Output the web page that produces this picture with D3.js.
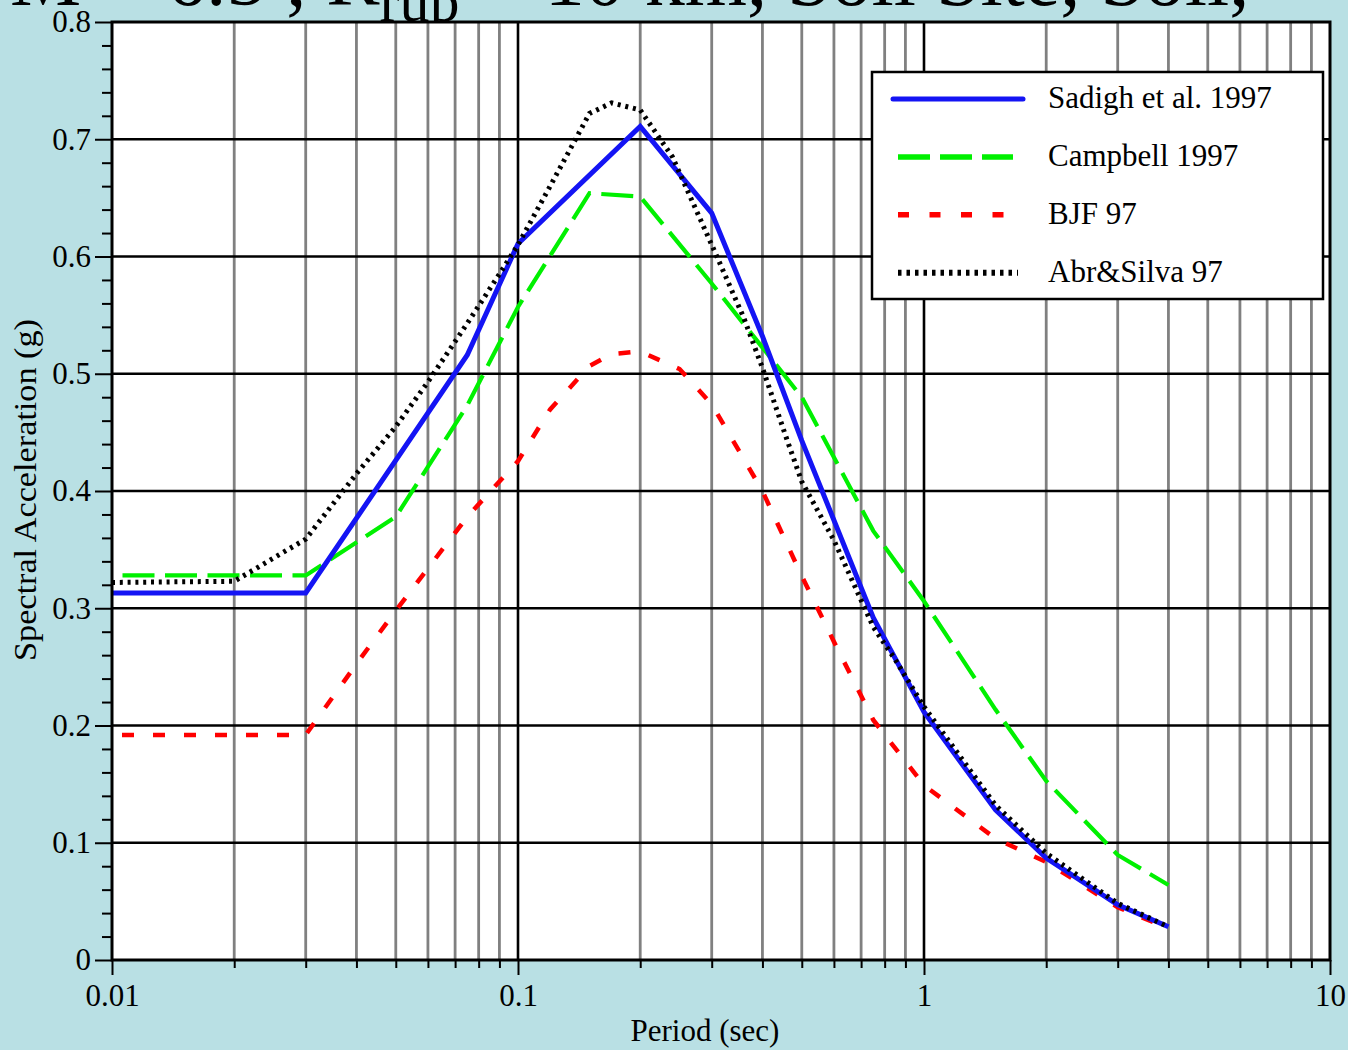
<!DOCTYPE html>
<html><head><meta charset="utf-8">
<script src="https://cdn.jsdelivr.net/npm/d3@7"></script>
<style>
body{margin:0;background:#b9e0e4;}
svg{display:block;}
text{font-family:"Liberation Serif","Times New Roman",serif;fill:#000;}
</style></head>
<body><svg id="chart" width="1348" height="1050"></svg>
<script>
// ---------- data ----------
const periodsSadigh = [0.01,0.03,0.075,0.1,0.2,0.3,0.4,0.5,0.75,1,1.5,2,3,4];
const valuesSadigh  = [0.313,0.313,0.516,0.611,0.711,0.637,0.532,0.443,0.292,0.2115,0.128,0.087,0.047,0.0284];

const periodsCampbell = [0.01,0.03,0.05,0.075,0.1,0.15,0.2,0.3,0.5,0.75,1,1.5,2,3,4];
const valuesCampbell  = [0.328,0.328,0.378,0.473,0.557,0.654,0.651,0.577,0.48,0.366,0.306,0.2136,0.1527,0.0896,0.064];

const periodsBJF = [0.01,0.03,0.04,0.05,0.06,0.075,0.1,0.12,0.15,0.17,0.2,0.25,0.3,0.4,0.5,0.6,0.75,1,1.5,2,3,4];
const valuesBJF  = [0.192,0.192,0.2525,0.298,0.334,0.378,0.4255,0.4696,0.5066,0.5168,0.519,0.504,0.474,0.40,0.3275,0.2715,0.2047,0.149,0.1036,0.0836,0.045,0.0269];

const periodsAS = [0.01,0.02,0.03,0.04,0.05,0.06,0.075,0.09,0.1,0.12,0.15,0.17,0.2,0.24,0.3,0.36,0.4,0.46,0.5,0.6,0.75,0.85,1,1.5,2,3,4];
const valuesAS  = [0.322,0.323,0.359,0.4147,0.455,0.493,0.543,0.585,0.61,0.66,0.722,0.731,0.725,0.685,0.61,0.5475,0.505,0.4435,0.408,0.358,0.284,0.256,0.216,0.132,0.091,0.0483,0.0284];

const seriesNames = ["Sadigh et al. 1997","Campbell 1997","BJF 97","Abr&Silva 97"];

const xMajorTicks = [0.01,0.1,1,10];
const xTickLabels = ["0.01","0.1","1","10"];
const yMajorTicks = [0,0.1,0.2,0.3,0.4,0.5,0.6,0.7,0.8];
const yTickLabels = ["0","0.1","0.2","0.3","0.4","0.5","0.6","0.7","0.8"];

// ---------- layout ----------
const SERIF = '"Liberation Serif","Times New Roman",serif';
const svg = d3.select("#chart");
const L = 112, R = 1330, T = 22, B = 960;
const x = d3.scaleLog().domain([0.01,10]).range([L,R]);
const y = d3.scaleLinear().domain([0,0.8]).range([B,T]);
const FONT = 31;

// title (mostly cut off at top of slide)
const title = svg.append("text").attr("x",10).attr("y",5).style("font-size","80px").style("font-family",SERIF);
title.append("tspan").text("M = 6.5 , R");
title.append("tspan").attr("dy",16).style("font-size","60px").text("rup");
title.append("tspan").attr("dy",-16).text(" = 10 km, Soil Site, Soil,");

// plot background
svg.append("rect").attr("x",L).attr("y",T).attr("width",R-L).attr("height",B-T).attr("fill","#fff");

// minor positions
const xMinor = [];
[0.01,0.1,1].forEach(d=>{for(let k=2;k<=9;k++) xMinor.push(d*k);});
const yMinor = d3.range(0,41).map(i=>i*0.02).filter(v=>Math.abs(v*10-Math.round(v*10))>1e-6);

const grid = svg.append("g");
grid.selectAll("line.vminor").data(xMinor).join("line")
  .attr("class","vminor")
  .attr("x1",d=>x(d)).attr("x2",d=>x(d)).attr("y1",T).attr("y2",B)
  .attr("stroke","#808080").attr("stroke-width",2.8);
grid.selectAll("line.vmajor").data([0.1,1]).join("line")
  .attr("class","vmajor")
  .attr("x1",d=>x(d)).attr("x2",d=>x(d)).attr("y1",T).attr("y2",B)
  .attr("stroke","#000").attr("stroke-width",2.6);
grid.selectAll("line.h").data(yMajorTicks.slice(1,-1)).join("line")
  .attr("class","h")
  .attr("x1",L).attr("x2",R).attr("y1",d=>y(d)).attr("y2",d=>y(d))
  .attr("stroke","#000").attr("stroke-width",2.4);

// axes
const yAxisMajor = d3.axisLeft(y).tickValues(yMajorTicks).tickFormat((d,i)=>yTickLabels[i]).tickSize(17).tickPadding(4);
const gy = svg.append("g").attr("transform",`translate(${L},0)`).call(yAxisMajor);
const gym = svg.append("g").attr("transform",`translate(${L},0)`).call(d3.axisLeft(y).tickValues(yMinor).tickFormat("").tickSize(10));
const xAxisMajor = d3.axisBottom(x).tickValues(xMajorTicks).tickFormat((d,i)=>xTickLabels[i]).tickSize(15).tickPadding(9);
const gx = svg.append("g").attr("transform",`translate(0,${B})`).call(xAxisMajor);
const gxm = svg.append("g").attr("transform",`translate(0,${B})`).call(d3.axisBottom(x).tickValues(xMinor).tickFormat("").tickSize(8));
[gy,gym,gx,gxm].forEach(g=>{
  g.attr("font-family",SERIF).attr("font-size",FONT);
  g.select(".domain").remove();
  g.selectAll(".tick line").attr("stroke","#000").attr("stroke-width",2);
  g.selectAll("text").style("font-size",FONT+"px").style("font-family",SERIF).attr("fill","#000");
});

// series
const line = d3.line().x(d=>x(d[0])).y(d=>y(d[1]));
const zip = (a,b)=>a.map((v,i)=>[v,b[i]]);
const series = [
  {name:seriesNames[2], data:zip(periodsBJF,valuesBJF), color:"#ff0000", w:4.5, dash:"12,19", off:21},
  {name:seriesNames[1], data:zip(periodsCampbell,valuesCampbell), color:"#00f000", w:4.2, dash:"32,10.5", off:32},
  {name:seriesNames[0], data:zip(periodsSadigh,valuesSadigh), color:"#1414f4", w:5, dash:null, off:0},
  {name:seriesNames[3], data:zip(periodsAS,valuesAS), color:"#000000", w:5, dash:"3,4.8", off:0}
];
const gl = svg.append("g");
series.forEach(s=>{
  gl.append("path").attr("d",line(s.data)).attr("fill","none")
    .attr("stroke",s.color).attr("stroke-width",s.w)
    .attr("stroke-dasharray",s.dash).attr("stroke-dashoffset",s.off)
    .attr("stroke-linejoin","miter");
});

// frame
svg.append("rect").attr("x",L).attr("y",T).attr("width",R-L).attr("height",B-T)
  .attr("fill","none").attr("stroke","#000").attr("stroke-width",3);

// axis titles
svg.append("text").attr("x",705).attr("y",1041).attr("text-anchor","middle")
  .style("font-size","31px").style("font-family",SERIF).text("Period (sec)");
svg.append("text").attr("transform","translate(36,490) rotate(-90)").attr("text-anchor","middle")
  .style("font-size","32px").style("font-family",SERIF)
  .attr("textLength",342).attr("lengthAdjust","spacingAndGlyphs")
  .text("Spectral Acceleration (g)");

// legend
const lg = svg.append("g");
lg.append("rect").attr("x",872).attr("y",72).attr("width",451).attr("height",227)
  .attr("fill","#fff").attr("stroke","#000").attr("stroke-width",2.5);
const legendOrder = [
  {name:seriesNames[0], color:"#1414f4", w:5, dash:null, x1:893, x2:1023},
  {name:seriesNames[1], color:"#00f000", w:5.5, dash:"32,10", x1:898, x2:1013},
  {name:seriesNames[2], color:"#ff0000", w:5.5, dash:"11,20.5", x1:898, x2:1004},
  {name:seriesNames[3], color:"#000000", w:6, dash:"3.5,5", x1:898, x2:1018}
];
legendOrder.forEach((s,i)=>{
  const yy = 99 + i*57.9;
  lg.append("line").attr("x1",s.x1).attr("x2",s.x2).attr("y1",yy).attr("y2",yy)
    .attr("stroke",s.color).attr("stroke-width",s.w).attr("stroke-dasharray",s.dash)
    .attr("stroke-linecap", s.dash?"butt":"round");
  lg.append("text").attr("x",1048).attr("y",yy+9).style("font-size","31px").style("font-family",SERIF).text(s.name);
});
</script>
</body></html>
